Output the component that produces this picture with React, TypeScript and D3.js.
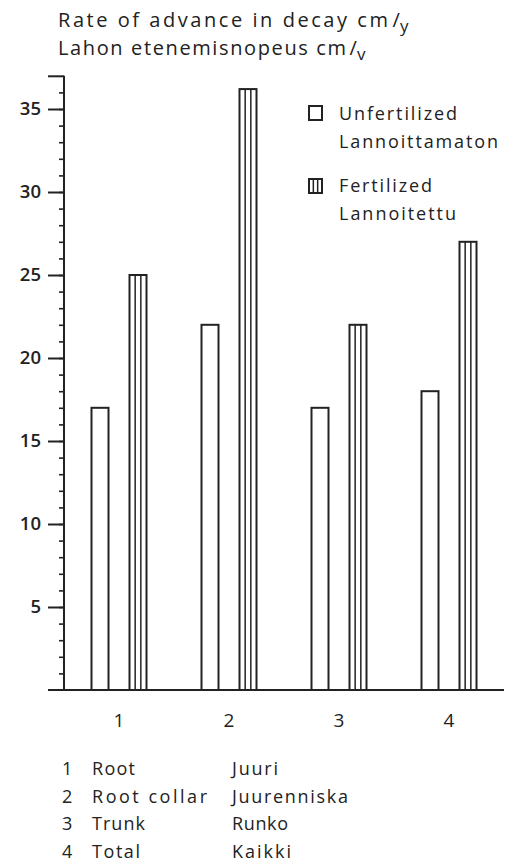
import React, { useEffect, useRef } from "react";
import * as d3 from "d3";

const categories = ["1", "2", "3", "4"];
const series = ["Unfertilized", "Fertilized"];
const unfertilized = [17, 22, 17, 18];
const fertilized = [25, 36.2, 22, 27];
const majorTicks = [5, 10, 15, 20, 25, 30, 35];
const legendLines = [
  ["Unfertilized", "Lannoittamaton"],
  ["Fertilized", "Lannoitettu"],
];
const keyEnglish = ["Root", "Root collar", "Trunk", "Total"];
const keyFinnish = ["Juuri", "Juurenniska", "Runko", "Kaikki"];

// widths of the printed words
const legendWidths = [[118, 159], [93, 117]];
const englishWidths = [43, 115, 53, 48];
const finnishWidths = [46, 116, 56, 59];

const W = 507;
const H = 861;
const ink = "#222";
const font = "'Open Sans', Lato, sans-serif";

export default function App() {
  const ref = useRef<SVGSVGElement>(null);

  useEffect(() => {
    const svg = d3.select(ref.current);
    svg.selectAll("*").remove();

    const axisX = 64;
    const y = d3.scaleLinear().domain([0, 35]).range([690, 109]);
    const x = d3.scaleBand().domain(categories).range([axisX, axisX + 440]);
    const inner = d3.scalePoint().domain(series).range([-19, 19]);
    const barW = 17;

    // title
    const title = svg.append("g").attr("fill", ink).style("font-family", font).style("font-size", "20px");
    const t1 = title.append("text").attr("x", 58).attr("y", 27);
    t1.append("tspan").attr("textLength", 330).attr("lengthAdjust", "spacing").text("Rate of advance in decay cm");
    t1.append("tspan").attr("dx", 2).text("/");
    t1.append("tspan").attr("dy", 5).attr("font-size", 17).text("y");
    const t2 = title.append("text").attr("x", 58).attr("y", 55);
    t2.append("tspan").attr("textLength", 288).attr("lengthAdjust", "spacing").text("Lahon etenemisnopeus cm");
    t2.append("tspan").attr("dx", 2).text("/");
    t2.append("tspan").attr("dy", 5).attr("font-size", 17).text("v");

    // y axis minor ticks
    const minor = svg.append("g").attr("transform", `translate(${axisX},0)`)
      .call(d3.axisLeft(y).tickValues(d3.range(1, 37)).tickSize(5).tickFormat(() => ""));
    minor.select(".domain").remove();
    minor.selectAll("line").attr("stroke", ink).attr("stroke-width", 1.6);

    const major = svg.append("g").attr("transform", `translate(${axisX},0)`)
      .call(d3.axisLeft(y).tickValues(majorTicks.concat([37])).tickSize(16).tickPadding(7)
        .tickFormat((d) => (+d === 37 ? "" : String(d))));
    major.select(".domain").remove();
    major.selectAll("line").attr("stroke", ink).attr("stroke-width", 2);
    major.selectAll("text").attr("fill", ink).style("font-family", font)
      .style("font-size", "18.5px").style("font-weight", 600);

    svg.append("line").attr("x1", axisX).attr("x2", axisX).attr("y1", y(37)).attr("y2", y(0))
      .attr("stroke", ink).attr("stroke-width", 2);
    svg.append("line").attr("x1", axisX - 16).attr("x2", axisX + 440).attr("y1", y(0)).attr("y2", y(0))
      .attr("stroke", ink).attr("stroke-width", 2);

    // bars
    const bars = svg.append("g").attr("fill", "white").attr("stroke", ink);
    categories.forEach((c, i) => {
      const cx = x(c)! + x.bandwidth() / 2;
      const ux = cx + inner("Unfertilized")! - barW / 2;
      bars.append("rect").attr("x", ux).attr("y", y(unfertilized[i])).attr("width", barW)
        .attr("height", y(0) - y(unfertilized[i])).attr("stroke-width", 2);
      const fx = cx + inner("Fertilized")! - barW / 2;
      bars.append("rect").attr("x", fx).attr("y", y(fertilized[i])).attr("width", barW)
        .attr("height", y(0) - y(fertilized[i])).attr("stroke-width", 2);
      [1, 2].forEach((k) => {
        bars.append("line").attr("x1", fx + (barW * k) / 3).attr("x2", fx + (barW * k) / 3)
          .attr("y1", y(fertilized[i])).attr("y2", y(0)).attr("stroke-width", 1.5);
      });
    });

    // category labels
    svg.append("g").selectAll("text").data(categories).join("text")
      .attr("x", (d) => x(d)! + x.bandwidth() / 2).attr("y", 727)
      .attr("text-anchor", "middle").attr("fill", ink)
      .style("font-family", font).style("font-size", "19px").text((d) => d);

    // legend
    const legend = svg.append("g").style("font-family", font).style("font-size", "18px").attr("fill", ink);
    legendLines.forEach((lines, i) => {
      const top = 106 + i * 73;
      legend.append("rect").attr("x", 309).attr("y", top).attr("width", 13).attr("height", 14)
        .attr("fill", "white").attr("stroke", ink).attr("stroke-width", 2);
      if (i === 1) {
        [1, 2].forEach((k) => {
          legend.append("line").attr("x1", 309 + (13 * k) / 3).attr("x2", 309 + (13 * k) / 3)
            .attr("y1", top).attr("y2", top + 14).attr("stroke", ink).attr("stroke-width", 1.5);
        });
      }
      lines.forEach((l, j) => {
        legend.append("text").attr("x", 339).attr("y", 120 + i * 72 + j * 28)
          .attr("textLength", legendWidths[i][j]).attr("lengthAdjust", "spacing").text(l);
      });
    });

    // key
    const key = svg.append("g").style("font-family", font).style("font-size", "18px").attr("fill", ink);
    categories.forEach((c, i) => {
      const by = 775 + i * 27.5;
      key.append("text").attr("x", 62).attr("y", by).text(c);
      key.append("text").attr("x", 92).attr("y", by)
        .attr("textLength", englishWidths[i]).attr("lengthAdjust", "spacing").text(keyEnglish[i]);
      key.append("text").attr("x", 232).attr("y", by)
        .attr("textLength", finnishWidths[i]).attr("lengthAdjust", "spacing").text(keyFinnish[i]);
    });
  }, []);

  return (
    <svg ref={ref} width={W} height={H} style={{ position: "absolute", left: 0, top: 0, background: "white" }} />
  );
}
